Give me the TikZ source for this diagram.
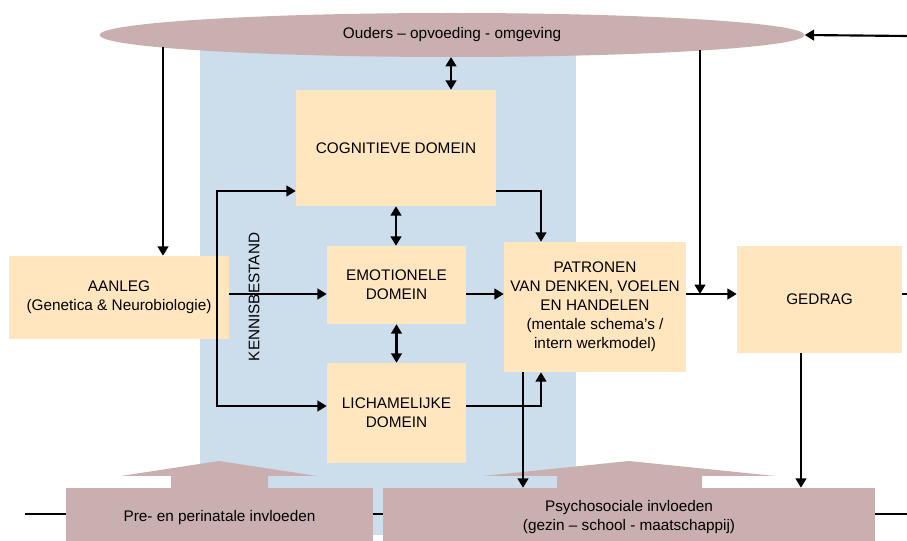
\documentclass[tikz,border=0pt]{standalone}
\usepackage{fontspec}
\setmainfont{Liberation Sans}
\usetikzlibrary{arrows.meta,shapes.geometric}
\definecolor{bgblue}{HTML}{CCDDEC}
\definecolor{beige}{HTML}{FFE6BF}
\definecolor{mauve}{HTML}{C9AFAF}
\begin{document}
\begin{tikzpicture}[x=0.75pt,y=-0.75pt,
  font=\fontsize{11.5}{14.3}\selectfont,
  box/.style={rectangle, fill=beige, inner sep=0pt, align=center},
  mbox/.style={rectangle, fill=mauve, inner sep=0pt},
  ln/.style={line width=1.6pt},
  arr/.style={line width=1.6pt, -{Triangle[length=7pt,width=8pt]}},
  darr/.style={line width=1.6pt, {Triangle[length=7pt,width=8pt]}-{Triangle[length=7pt,width=8pt]}}]
\useasboundingbox (0,0) rectangle (907,541);
% background band
\fill[bgblue] (200,40) rectangle (576,535);
% top ellipse
\node[ellipse, fill=mauve, minimum width=528.75pt, minimum height=33pt, inner sep=0pt] (ell) at (452,35) {Ouders – opvoeding - omgeving};
% bottom baseline
\coordinate (L0) at (25,514);
\coordinate (L1) at (907,514);
\draw[ln] (L0) -- (L1);
% bottom block arrows
\fill[mauve] (171,489) -- (171,476) -- (121,476) -- (219,461) -- (317,476) -- (268,476) -- (268,489) -- cycle;
\fill[mauve] (557,489) -- (557,476) -- (483,476) -- (629,461) -- (775,476) -- (702,476) -- (702,489) -- cycle;
\node[mbox, minimum width=230.25pt, minimum height=39.75pt] (pre) at (219.5,514.5) {};
\node[mbox, minimum width=369pt, minimum height=39.75pt] (psy) at (629,514.5) {};
\node[align=center, inner sep=0pt] (pret) at (219.5,517.5) {Pre- en perinatale invloeden};
\node[align=center, inner sep=0pt] (psyt) at (629,517.5) {Psychosociale invloeden\\(gezin – school - maatschappij)};
% boxes
\node[box, minimum width=150pt, minimum height=87pt] (cog) at (396,148) {COGNITIEVE DOMEIN};
\node[box, minimum width=104.25pt, minimum height=58.5pt] (emo) at (396.5,285) {EMOTIONELE\\DOMEIN};
\node[box, minimum width=104.25pt, minimum height=75pt] (lich) at (396.5,413) {LICHAMELIJKE\\DOMEIN};
\node[box, minimum width=165pt, minimum height=62.25pt] (aanleg) at (119,297.5) {AANLEG\\(Genetica \& Neurobiologie)};
\node[box, minimum width=136.5pt, minimum height=97.5pt] (patr) at (595,307) {PATRONEN\\VAN DENKEN, VOELEN\\EN HANDELEN\\(mentale schema’s /\\intern werkmodel)};
\node[box, minimum width=123.75pt, minimum height=80.25pt] (gedrag) at (819.5,299.5) {GEDRAG};
\node[rotate=90] (kb) at (254,297) {KENNISBESTAND};
% helper coordinates
\coordinate (yA) at (0,191);
\coordinate (yB) at (0,294);
\coordinate (yC) at (0,406);
\coordinate (br) at (217,294);
\coordinate (xP) at (541,0);
\coordinate (xQ) at (523,0);
\coordinate (xG) at (801,0);
\coordinate (e1) at (163,47);
\coordinate (e2) at (700,50);
\coordinate (e3) at (451,57);
\coordinate (R0) at (907,36);
\coordinate (R1) at (907,294);
% connectors
\draw[arr] (e1) -- (e1 |- aanleg.north);
\draw[arr] (R0) -- (ell.east);
\draw[darr] (e3) -- (e3 |- cog.north);
\draw[darr] (cog.south) -- (cog.south |- emo.north);
\draw[darr] (emo.south) -- (emo.south |- lich.north);
\draw[arr] (aanleg.east |- yB) -- (emo.west |- yB);
\draw[arr] (br) |- (cog.west |- yA);
\draw[arr] (br) |- (lich.west |- yC);
\draw[arr] (cog.east |- yA) -| (xP |- patr.north);
\draw[arr] (lich.east |- yC) -| (xP |- patr.south);
\draw[arr] (emo.east |- yB) -- (patr.west |- yB);
\draw[arr] (patr.east |- yB) -- (gedrag.west |- yB);
\draw[ln] (gedrag.east |- yB) -- (R1);
\draw[arr] (e2) -- (e2 |- yB);
\draw[arr] (xQ |- patr.south) -- (xQ |- psy.north);
\draw[arr] (xG |- gedrag.south) -- (xG |- psy.north);
\end{tikzpicture}
\end{document}
